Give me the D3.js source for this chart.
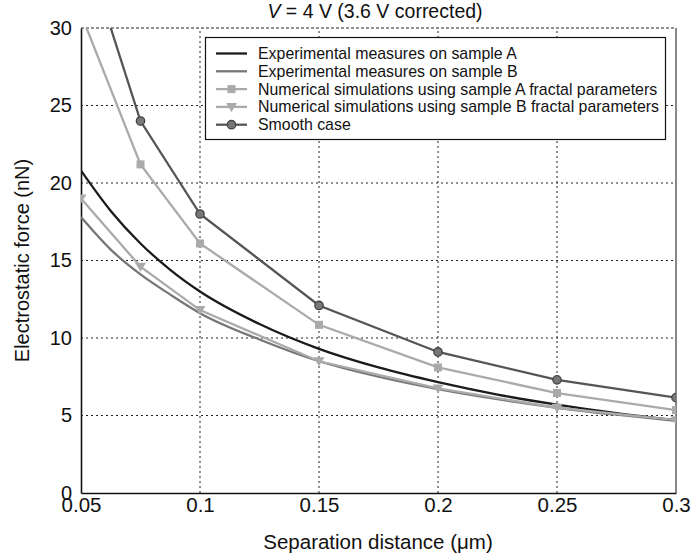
<!DOCTYPE html>
<html>
<head>
<meta charset="utf-8">
<script src="https://cdn.jsdelivr.net/npm/d3@7"></script>
<style>
  body { margin: 0; background: #fff; }
  svg { display: block; font-family: "Liberation Sans", Arial, sans-serif; }
</style>
</head>
<body>
<svg id="chart"></svg>
<script>
// simulated points
const distance = [0.05, 0.075, 0.1, 0.15, 0.2, 0.25, 0.3];
const smoothCase = [36, 24, 18, 12.1, 9.1, 7.3, 6.15];
const simA = [30.9, 21.2, 16.1, 10.85, 8.1, 6.45, 5.35];
const simB = [19, 14.6, 11.8, 8.5, 6.75, 5.5, 4.7];

// experimental curves
const expDistance = [0.05, 0.0625, 0.075, 0.0875, 0.1, 0.125, 0.15, 0.175, 0.2, 0.225, 0.25, 0.275, 0.3];
const expA = [20.8, 18.2, 16.1, 14.4, 13.0, 10.9, 9.3, 8.1, 7.15, 6.35, 5.7, 5.15, 4.7];
const expB = [17.8, 15.7, 14.1, 12.8, 11.6, 9.9, 8.5, 7.5, 6.7, 6.05, 5.5, 5.05, 4.65];

const xTicks = [0.05, 0.1, 0.15, 0.2, 0.25, 0.3];
const yTicks = [0, 5, 10, 15, 20, 25, 30];

const legendLabels = [
  "Experimental measures on sample A",
  "Experimental measures on sample B",
  "Numerical simulations using sample A fractal parameters",
  "Numerical simulations using sample B fractal parameters",
  "Smooth case"
];

const width = 693;
const height = 557;
const margin = ({ top: 28, right: 17, bottom: 64, left: 81 });

const x = d3.scaleLinear()
  .domain([0.05, 0.3])
  .range([margin.left, width - margin.right]);

const y = d3.scaleLinear()
  .domain([0, 30])
  .range([height - margin.bottom, margin.top]);

const svg = d3.select("#chart")
  .attr("width", width)
  .attr("height", height);

svg.append("clipPath").attr("id", "plot")
  .append("rect")
  .attr("x", margin.left).attr("y", margin.top)
  .attr("width", x.range()[1] - margin.left)
  .attr("height", y.range()[0] - margin.top);

// grid
const grid = svg.append("g")
  .attr("stroke", "#222")
  .attr("stroke-width", 1)
  .attr("stroke-dasharray", "2,3");

grid.selectAll(".gx")
  .data(xTicks.slice(1, -1))
  .join("line")
  .attr("x1", d => x(d)).attr("x2", d => x(d))
  .attr("y1", y(0)).attr("y2", y(30));

grid.selectAll(".gy")
  .data(yTicks.slice(1, -1))
  .join("line")
  .attr("y1", d => y(d)).attr("y2", d => y(d))
  .attr("x1", x(0.05)).attr("x2", x(0.3));

// frame
svg.append("line")
  .attr("x1", x(0.05)).attr("x2", x(0.3))
  .attr("y1", y(30)).attr("y2", y(30))
  .attr("stroke", "#222").attr("stroke-dasharray", "3,2");
svg.append("line")
  .attr("x1", x(0.3)).attr("x2", x(0.3))
  .attr("y1", y(30)).attr("y2", y(0))
  .attr("stroke", "#111");

// axes
const tickFont = "Liberation Sans, Arial, sans-serif";

const xAxis = g => g
  .attr("transform", `translate(0,${y(0)})`)
  .call(d3.axisBottom(x).tickValues(xTicks).tickFormat(d3.format("")).tickSize(0).tickPadding(4))
  .call(g => g.select(".domain").attr("stroke", "#111").attr("stroke-width", 1.6))
  .call(g => g.selectAll("text").attr("font-size", 20.5).attr("fill", "#111").attr("font-family", tickFont));

const yAxis = g => g
  .attr("transform", `translate(${x(0.05)},0)`)
  .call(d3.axisLeft(y).tickValues(yTicks).tickSize(0).tickPadding(9))
  .call(g => g.select(".domain").attr("stroke", "#111").attr("stroke-width", 1.6))
  .call(g => g.selectAll("text").attr("font-size", 20).attr("fill", "#111").attr("font-family", tickFont));

svg.append("g").call(xAxis);
svg.append("g").call(yAxis);

// series
const series = [
  { name: legendLabels[0], xs: expDistance, ys: expA, color: "#1b1b1b", marker: null },
  { name: legendLabels[1], xs: expDistance, ys: expB, color: "#777", marker: null },
  { name: legendLabels[2], xs: distance, ys: simA, color: "#aaa", marker: "square" },
  { name: legendLabels[3], xs: distance, ys: simB, color: "#aaa", marker: "triangle" },
  { name: legendLabels[4], xs: distance, ys: smoothCase, color: "#555", marker: "circle" }
];

const plot = svg.append("g").attr("clip-path", "url(#plot)");

const curved = d3.line().x(d => x(d[0])).y(d => y(d[1])).curve(d3.curveMonotoneX);
const straight = d3.line().x(d => x(d[0])).y(d => y(d[1]));

function drawMarker(g, type, color, cx, cy) {
  if (type === "square") {
    g.append("rect").attr("x", cx - 4).attr("y", cy - 4).attr("width", 8).attr("height", 8)
      .attr("fill", color);
  } else if (type === "triangle") {
    g.append("path").attr("d", `M${cx - 5.5},${cy - 4}L${cx + 5.5},${cy - 4}L${cx},${cy + 5}Z`)
      .attr("fill", color);
  } else if (type === "circle") {
    g.append("circle").attr("cx", cx).attr("cy", cy).attr("r", 4.2)
      .attr("fill", "#777").attr("stroke", "#444").attr("stroke-width", 1.3);
  }
}

// draw back to front like the original
[1, 0, 3, 2, 4].forEach(i => {
  const s = series[i];
  const pts = s.xs.map((v, j) => [v, s.ys[j]]);
  plot.append("path")
    .attr("d", (s.marker ? straight : curved)(pts))
    .attr("fill", "none")
    .attr("stroke", s.color)
    .attr("stroke-width", 2.3);
  if (s.marker) {
    pts.forEach(p => drawMarker(plot, s.marker, s.color, x(p[0]), y(p[1])));
  }
});

// legend
const legend = svg.append("g");
legend.append("rect")
  .attr("x", 205.5).attr("y", 37.5)
  .attr("width", 460).attr("height", 102)
  .attr("fill", "#fff").attr("stroke", "#111").attr("stroke-width", 1.2);

series.forEach((s, i) => {
  const ly = 53.5 + i * 17.8;
  legend.append("line")
    .attr("x1", 216).attr("x2", 247)
    .attr("y1", ly).attr("y2", ly)
    .attr("stroke", s.color).attr("stroke-width", 2.3);
  if (s.marker) drawMarker(legend, s.marker, s.color, 231.5, ly);
  legend.append("text")
    .attr("x", 258).attr("y", ly + 5.5)
    .attr("font-size", 15.9)
    .attr("fill", "#111")
    .text(s.name);
});

// titles
const title = svg.append("text")
  .attr("x", 375).attr("y", 17.5)
  .attr("text-anchor", "middle")
  .attr("font-size", 19.5)
  .attr("fill", "#111");
title.append("tspan").attr("font-style", "italic").text("V");
title.append("tspan").text(" = 4 V (3.6 V corrected)");

svg.append("text")
  .attr("x", 378).attr("y", 549)
  .attr("text-anchor", "middle")
  .attr("font-size", 20.5)
  .attr("fill", "#111")
  .text("Separation distance (μm)");

svg.append("text")
  .attr("transform", `translate(28.5,${(y(0) + y(30)) / 2}) rotate(-90)`)
  .attr("text-anchor", "middle")
  .attr("font-size", 20)
  .attr("fill", "#111")
  .text("Electrostatic force (nN)");
</script>
</body>
</html>
